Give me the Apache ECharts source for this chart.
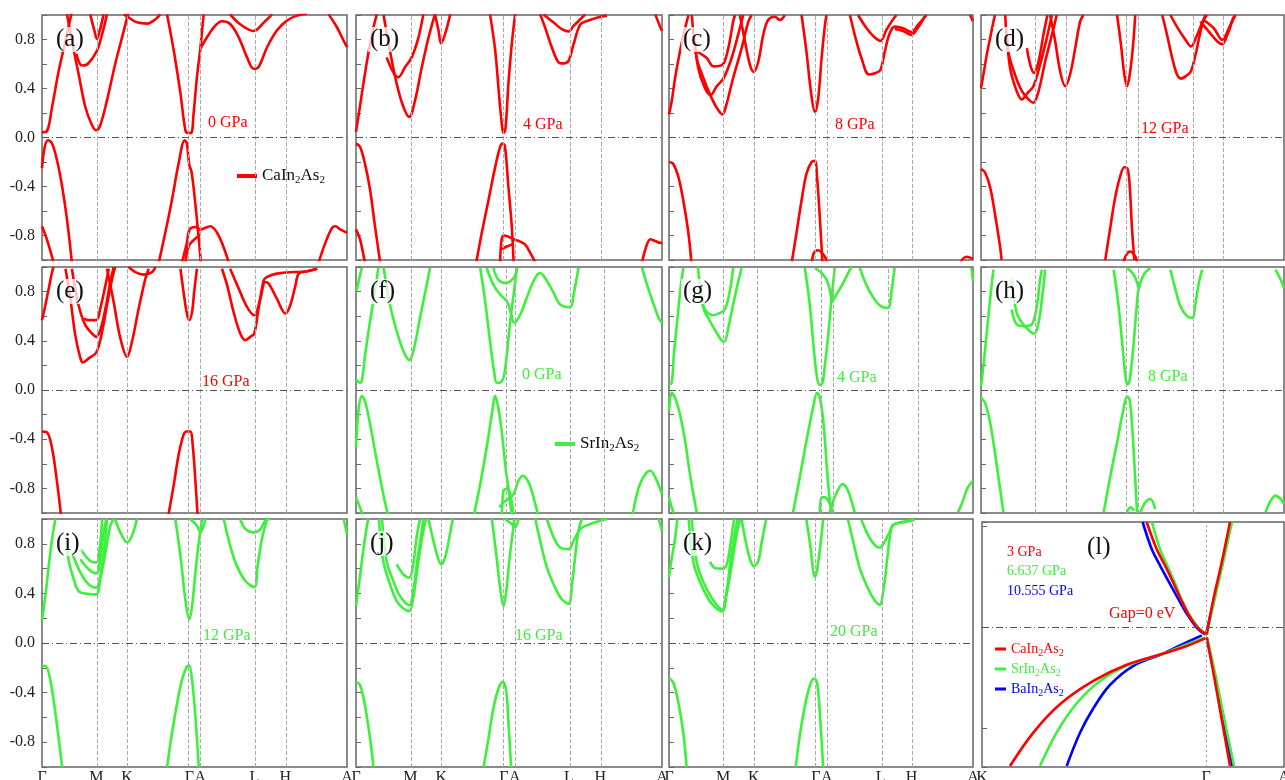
<!DOCTYPE html>
<html>
<head>
<meta charset="utf-8">
<script src="https://cdn.jsdelivr.net/npm/echarts@6/dist/echarts.min.js"></script>
<style>
  html, body { margin: 0; padding: 0; background: #fff; }
  #chart { width: 1285px; height: 780px; }
</style>
</head>
<body>
<div id="chart"></div>
<script>
// k-path positions (fraction of path length) and names
var kPath  = [0, 0.178, 0.279, 0.483, 0.519, 0.696, 0.798, 1];
var kPathF = [0, 0.177, 0.280, 0.490, 0.523, 0.703, 0.809, 1];
var kPathG = [0, 0.182, 0.290, 0.499, 0.537, 0.721, 0.825, 1];
var kNames = ['Γ', 'M', 'K', 'Γ', 'A', 'L', 'H', 'A'];
var kPathL = [0, 1, 1.348];
var kNamesL = ['K', 'Γ', 'A'];

var pressures = ['0 GPa', '4 GPa', '8 GPa', '12 GPa', '16 GPa', '0 GPa', '4 GPa', '8 GPa', '12 GPa', '16 GPa', '20 GPa'];
var panelNames = ['(a)', '(b)', '(c)', '(d)', '(e)', '(f)', '(g)', '(h)', '(i)', '(j)', '(k)', '(l)'];
var pressuresL = ['3 GPa', '6.637 GPa', '10.555 GPa'];

// CaIn2As2, 0 GPa
var bandsA = [
  [[0,0.043],[0.016,0.051],[0.033,0.249],[0.055,0.546],[0.077,0.789],[0.098,1.03]],
  [[0.082,1.005],[0.098,0.789],[0.12,0.519],[0.142,0.249],[0.164,0.1],[0.178,0.059],[0.191,0.1],[0.213,0.303],[0.24,0.6],[0.268,0.87],[0.284,1.03]],
  [[0.113,0.683],[0.131,0.588],[0.15,0.6],[0.18,0.708],[0.197,0.843],[0.213,1.005]],
  [[0.158,1.005],[0.172,0.87],[0.18,0.805],[0.189,0.87],[0.202,1.005]],
  [[0.268,1.005],[0.284,0.98],[0.311,0.94],[0.344,0.93],[0.372,0.965],[0.388,1.005]],
  [[0.41,1.005],[0.432,0.71],[0.454,0.358],[0.47,0.06],[0.478,0.038],[0.489,0.038],[0.497,0.195],[0.508,0.493],[0.519,0.724],[0.53,1.005]],
  [[0.519,0.724],[0.541,0.818],[0.568,0.913],[0.59,0.949],[0.617,0.927],[0.645,0.818],[0.672,0.656],[0.694,0.561],[0.71,0.575],[0.738,0.737],[0.77,0.873],[0.803,0.954],[0.836,0.995],[0.869,1.01]],
  [[0.617,1.005],[0.65,0.924],[0.694,0.87],[0.727,0.938],[0.754,1.005]],
  [[0.94,1.005],[0.967,0.9],[0.989,0.79],[1,0.737]],
  [[0,-0.25],[0.009,-0.076],[0.02,-0.022],[0.033,-0.049],[0.049,-0.184],[0.066,-0.4],[0.082,-0.67],[0.098,-1.02]],
  [[0,-0.724],[0.016,-0.832],[0.038,-1.02]],
  [[0.383,-1.02],[0.404,-0.78],[0.426,-0.51],[0.448,-0.21],[0.468,-0.022],[0.475,-0.049],[0.483,-0.224],[0.49,-0.278],[0.499,-0.454],[0.51,-0.724],[0.521,-1.02]],
  [[0.459,-1.02],[0.475,-0.86],[0.484,-0.75],[0.503,-0.73],[0.519,-0.75],[0.552,-0.724],[0.574,-0.778],[0.596,-0.9],[0.612,-1.02]],
  [[0.47,-1.02],[0.481,-0.886],[0.497,-0.838],[0.519,-0.792]],
  [[0.907,-1.02],[0.929,-0.86],[0.951,-0.738],[0.962,-0.724],[0.978,-0.75],[1,-0.778]]
];
// CaIn2As2, 4 GPa
var bandsB = [
  [[0,0.046],[0.011,0.222],[0.024,0.438],[0.04,0.681],[0.057,0.897],[0.068,1.005]],
  [[0.09,1.0],[0.111,0.708],[0.133,0.438],[0.155,0.249],[0.174,0.168],[0.193,0.303],[0.215,0.573],[0.237,0.816],[0.258,1.005]],
  [[0.1,0.654],[0.122,0.532],[0.138,0.492],[0.16,0.573],[0.182,0.654],[0.204,0.816],[0.22,1.005]],
  [[0.258,1.005],[0.27,0.87],[0.278,0.768],[0.291,0.843],[0.308,1.005]],
  [[0.438,1.005],[0.455,0.708],[0.469,0.303],[0.479,0.059],[0.483,0.038],[0.489,0.086],[0.498,0.438],[0.509,0.762],[0.52,1.005]],
  [[0.602,1.005],[0.618,0.897],[0.64,0.735],[0.662,0.614],[0.678,0.605],[0.695,0.627],[0.711,0.762],[0.733,0.924],[0.755,0.951],[0.787,0.978],[0.82,0.995]],
  [[0.613,1.005],[0.646,0.938],[0.673,0.884],[0.695,0.865],[0.711,0.911],[0.733,0.965],[0.749,1.005]],
  [[0.978,1.005],[0.995,0.897],[1,0.87]],
  [[0,-0.049],[0.013,-0.076],[0.029,-0.211],[0.046,-0.427],[0.062,-0.724],[0.079,-1.02]],
  [[0,-0.75],[0.013,-0.83],[0.029,-1.02]],
  [[0.393,-1.02],[0.411,-0.78],[0.433,-0.51],[0.455,-0.24],[0.471,-0.076],[0.48,-0.049],[0.487,-0.076],[0.498,-0.4],[0.509,-0.724],[0.515,-1.02]],
  [[0.471,-1.02],[0.476,-0.83],[0.484,-0.8],[0.498,-0.81],[0.515,-0.83],[0.537,-0.85],[0.553,-0.875],[0.569,-0.94],[0.586,-1.02]],
  [[0.476,-0.91],[0.493,-0.89],[0.515,-0.87]],
  [[0.935,-1.02],[0.946,-0.91],[0.962,-0.83],[0.978,-0.845],[0.995,-0.86],[1,-0.86]]
];
// CaIn2As2, 8 GPa
var bandsC = [
  [[0,0.189],[0.009,0.297],[0.02,0.486],[0.036,0.703],[0.053,0.892],[0.064,1.0]],
  [[0.075,1.0],[0.091,0.649],[0.113,0.486],[0.135,0.351],[0.157,0.243],[0.176,0.189],[0.189,0.27],[0.211,0.486],[0.239,0.73],[0.261,0.946],[0.272,1.0]],
  [[0.082,0.85],[0.096,0.568],[0.118,0.405],[0.137,0.346],[0.157,0.419],[0.179,0.481],[0.206,0.649],[0.233,0.892],[0.244,1.0]],
  [[0.091,0.703],[0.124,0.649],[0.146,0.581],[0.176,0.595],[0.195,0.73],[0.211,0.946],[0.217,1.0]],
  [[0.233,1.0],[0.25,0.784],[0.266,0.595],[0.279,0.535],[0.294,0.622],[0.31,0.838],[0.326,0.959],[0.348,0.986],[0.365,0.959],[0.381,1.0]],
  [[0.436,1.0],[0.452,0.703],[0.468,0.351],[0.48,0.208],[0.491,0.324],[0.502,0.649],[0.513,0.919],[0.518,1.0]],
  [[0.595,1.0],[0.611,0.838],[0.633,0.649],[0.658,0.514],[0.68,0.527],[0.696,0.554],[0.71,0.703],[0.726,0.851],[0.743,0.905],[0.77,0.892],[0.797,0.86],[0.819,0.919],[0.847,1.0]],
  [[0.743,0.886],[0.77,0.87],[0.797,0.838],[0.819,0.897],[0.841,0.986]],
  [[0.622,1.0],[0.65,0.892],[0.677,0.816],[0.696,0.789],[0.715,0.878],[0.732,0.946],[0.748,1.0]],
  [[0.99,1.0],[1,0.95]],
  [[0,-0.2],[0.014,-0.216],[0.031,-0.324],[0.047,-0.514],[0.064,-0.784],[0.074,-1.03]],
  [[0.403,-1.03],[0.419,-0.784],[0.436,-0.514],[0.452,-0.297],[0.469,-0.2],[0.48,-0.19],[0.487,-0.324],[0.496,-0.649],[0.505,-1.03]],
  [[0.47,-1.03],[0.476,-0.946],[0.49,-0.92],[0.512,-0.97],[0.52,-1.03]],
  [[0.956,-1.03],[0.978,-0.973],[1,-0.99]]
];
// CaIn2As2, 12 GPa
var bandsD = [
  [[0,0.405],[0.008,0.514],[0.019,0.676],[0.03,0.811],[0.041,0.946],[0.046,1.0]],
  [[0.08,1.0],[0.09,0.703],[0.112,0.514],[0.135,0.378],[0.157,0.311],[0.173,0.284],[0.19,0.378],[0.212,0.622],[0.234,0.838],[0.25,1.0]],
  [[0.085,0.85],[0.096,0.568],[0.118,0.378],[0.135,0.311],[0.154,0.365],[0.173,0.419],[0.195,0.595],[0.217,0.811],[0.234,1.0]],
  [[0.151,0.73],[0.164,0.581],[0.175,0.527],[0.19,0.622],[0.206,0.838],[0.219,1.0]],
  [[0.228,1.0],[0.245,0.784],[0.261,0.541],[0.278,0.419],[0.294,0.514],[0.311,0.73],[0.327,0.946],[0.338,1.0]],
  [[0.449,1.0],[0.462,0.757],[0.473,0.514],[0.482,0.419],[0.491,0.514],[0.502,0.757],[0.509,1.0]],
  [[0.598,1.0],[0.614,0.838],[0.631,0.649],[0.647,0.514],[0.66,0.481],[0.68,0.508],[0.693,0.541],[0.708,0.676],[0.722,0.838],[0.735,0.959],[0.746,1.0]],
  [[0.625,1.0],[0.653,0.878],[0.675,0.797],[0.693,0.743],[0.711,0.824],[0.727,0.919],[0.741,1.0]],
  [[0.724,0.946],[0.752,0.865],[0.78,0.784],[0.796,0.762],[0.813,0.838],[0.829,0.946],[0.84,1.0]],
  [[0.735,0.959],[0.768,0.892],[0.796,0.797],[0.818,0.892],[0.834,0.986]],
  [[0,-0.257],[0.013,-0.284],[0.03,-0.405],[0.046,-0.622],[0.063,-0.892],[0.068,-1.0]],
  [[0.41,-1.0],[0.427,-0.73],[0.443,-0.486],[0.46,-0.311],[0.473,-0.243],[0.484,-0.257],[0.491,-0.405],[0.498,-0.73],[0.506,-1.0]],
  [[0.47,-1.02],[0.479,-0.96],[0.492,-0.93],[0.509,-0.97],[0.515,-1.02]]
];
// CaIn2As2, 16 GPa
var bandsE = [
  [[0,0.568],[0.011,0.689],[0.022,0.824],[0.033,0.959],[0.038,1.0]],
  [[0.077,0.986],[0.093,0.743],[0.109,0.446],[0.126,0.257],[0.134,0.224],[0.153,0.257],[0.178,0.305],[0.197,0.473],[0.213,0.689],[0.23,0.905],[0.24,1.0]],
  [[0.098,0.986],[0.12,0.689],[0.142,0.527],[0.164,0.459],[0.178,0.432],[0.191,0.486],[0.208,0.662],[0.224,0.878],[0.235,1.0]],
  [[0.137,0.581],[0.153,0.568],[0.178,0.568],[0.191,0.662],[0.208,0.851],[0.219,0.986]],
  [[0.213,0.986],[0.235,0.716],[0.257,0.419],[0.279,0.27],[0.295,0.392],[0.317,0.662],[0.339,0.905],[0.35,0.986]],
  [[0.284,1.0],[0.306,0.959],[0.333,0.938],[0.361,0.959],[0.372,1.0]],
  [[0.454,0.986],[0.464,0.797],[0.475,0.622],[0.483,0.568],[0.492,0.635],[0.499,0.797],[0.508,0.986]],
  [[0.59,0.986],[0.607,0.851],[0.628,0.635],[0.65,0.459],[0.667,0.405],[0.683,0.432],[0.696,0.459],[0.71,0.662],[0.727,0.892],[0.738,0.919],[0.77,0.946],[0.825,0.959],[0.847,0.959],[0.902,0.986]],
  [[0.617,0.986],[0.645,0.824],[0.672,0.676],[0.696,0.608],[0.716,0.743],[0.732,0.878],[0.743,0.865],[0.77,0.743],[0.798,0.622],[0.814,0.689],[0.831,0.851],[0.842,0.946],[0.869,0.965],[0.902,0.986]],
  [[0,-0.338],[0.016,-0.343],[0.033,-0.473],[0.049,-0.743],[0.062,-1.01]],
  [[0.415,-1.01],[0.432,-0.77],[0.448,-0.527],[0.464,-0.365],[0.475,-0.338],[0.486,-0.338],[0.495,-0.473],[0.503,-0.743],[0.51,-1.01]]
];
// SrIn2As2, 0 GPa
var bandsF = [
  [[0,0.086],[0.013,0.059],[0.019,0.073],[0.03,0.289],[0.046,0.559],[0.062,0.803],[0.073,0.992]],
  [[0.002,0.803],[0.011,0.911],[0.019,0.992]],
  [[0.09,1.0],[0.111,0.695],[0.133,0.478],[0.155,0.316],[0.174,0.243],[0.19,0.343],[0.209,0.586],[0.229,0.83],[0.242,0.992]],
  [[0.406,0.992],[0.422,0.722],[0.438,0.397],[0.451,0.154],[0.46,0.059],[0.469,0.059],[0.482,0.1],[0.493,0.289],[0.504,0.559],[0.515,0.776],[0.526,0.992]],
  [[0.427,0.992],[0.449,0.857],[0.471,0.776],[0.493,0.722],[0.506,0.627],[0.517,0.546],[0.537,0.614],[0.558,0.749],[0.58,0.884],[0.6,0.951],[0.618,0.911],[0.646,0.789],[0.667,0.695],[0.7,0.673],[0.711,0.776],[0.727,0.992]],
  [[0.449,0.992],[0.465,0.897],[0.487,0.87],[0.515,0.911],[0.526,0.992]],
  [[0.935,0.992],[0.951,0.857],[0.973,0.695],[0.989,0.586],[1,0.546]],
  [[0,-0.468],[0.008,-0.17],[0.019,-0.049],[0.029,-0.089],[0.046,-0.278],[0.068,-0.576],[0.089,-0.846],[0.106,-1.035]],
  [[0.384,-1.035],[0.406,-0.765],[0.427,-0.468],[0.444,-0.197],[0.455,-0.049],[0.465,-0.143],[0.476,-0.332],[0.482,-0.468],[0.49,-0.657],[0.498,-0.792],[0.509,-1.035]],
  [[0.469,-0.954],[0.482,-0.914],[0.498,-0.886],[0.515,-0.846],[0.531,-0.738],[0.545,-0.697],[0.564,-0.751],[0.58,-0.873],[0.597,-1.035]],
  [[0.477,-1.035],[0.482,-0.819],[0.493,-0.805],[0.504,-0.846],[0.515,-1.035]],
  [[0.902,-1.035],[0.924,-0.792],[0.945,-0.684],[0.962,-0.657],[0.978,-0.711],[1,-0.846]],
  [[0,-0.873],[0.013,-0.954],[0.024,-1.035]]
];
// SrIn2As2, 4 GPa
var bandsG = [
  [[0,0.046],[0.009,0.059],[0.016,0.289],[0.027,0.559],[0.038,0.83],[0.047,0.992]],
  [[0.095,1.0],[0.113,0.668],[0.135,0.559],[0.157,0.465],[0.173,0.403],[0.182,0.392],[0.195,0.505],[0.211,0.695],[0.228,0.884],[0.239,0.992]],
  [[0.102,0.83],[0.118,0.654],[0.146,0.608],[0.168,0.627],[0.184,0.654],[0.2,0.803],[0.211,0.992]],
  [[0.447,0.992],[0.463,0.695],[0.476,0.343],[0.487,0.1],[0.496,0.041],[0.505,0.059],[0.513,0.208],[0.524,0.451],[0.534,0.722],[0.545,0.992]],
  [[0.48,0.992],[0.502,0.951],[0.518,0.897],[0.529,0.816],[0.537,0.722],[0.551,0.776],[0.573,0.87],[0.595,0.978],[0.6,1.0]],
  [[0.628,0.992],[0.644,0.884],[0.666,0.776],[0.688,0.7],[0.704,0.673],[0.721,0.668],[0.732,0.803],[0.742,0.992]],
  [[0.995,0.992],[1,0.884]],
  [[0,-0.17],[0.009,-0.022],[0.02,-0.062],[0.036,-0.197],[0.053,-0.414],[0.069,-0.684],[0.091,-0.995]],
  [[0.408,-0.995],[0.43,-0.711],[0.452,-0.414],[0.474,-0.143],[0.487,-0.022],[0.496,-0.062],[0.505,-0.197],[0.513,-0.414],[0.52,-0.657],[0.529,-0.9],[0.535,-0.995]],
  [[0.496,-0.995],[0.502,-0.873],[0.513,-0.873],[0.529,-0.927],[0.54,-0.995]],
  [[0.529,-0.995],[0.545,-0.873],[0.571,-0.765],[0.589,-0.819],[0.606,-0.954],[0.611,-0.995]],
  [[0.951,-0.995],[0.967,-0.9],[0.983,-0.792],[1,-0.738]],
  [[0,-0.873],[0.009,-0.954],[0.015,-1.0]]
];
// SrIn2As2, 8 GPa
var bandsH = [
  [[0,0.032],[0.008,0.195],[0.019,0.465],[0.03,0.735],[0.041,0.978]],
  [[0.1,0.9],[0.118,0.627],[0.14,0.532],[0.162,0.478],[0.176,0.457],[0.19,0.546],[0.201,0.735],[0.212,0.978]],
  [[0.101,0.654],[0.118,0.532],[0.14,0.519],[0.167,0.532],[0.184,0.681],[0.195,0.897],[0.201,0.978]],
  [[0.438,0.978],[0.454,0.681],[0.468,0.33],[0.478,0.086],[0.484,0.046],[0.491,0.086],[0.502,0.33],[0.513,0.654],[0.52,0.816],[0.537,0.938],[0.559,0.992]],
  [[0.482,0.992],[0.504,0.938],[0.52,0.83]],
  [[0.625,0.978],[0.642,0.816],[0.658,0.681],[0.68,0.6],[0.697,0.586],[0.708,0.708],[0.719,0.87],[0.73,0.978]],
  [[0.972,0.978],[0.989,0.897],[1,0.83]],
  [[0,-0.062],[0.013,-0.103],[0.03,-0.265],[0.046,-0.508],[0.063,-0.805],[0.074,-0.995]],
  [[0.405,-0.995],[0.427,-0.697],[0.449,-0.427],[0.468,-0.184],[0.482,-0.054],[0.49,-0.076],[0.498,-0.265],[0.506,-0.589],[0.515,-0.995]],
  [[0.482,-0.995],[0.493,-0.954],[0.506,-0.981]],
  [[0.526,-0.995],[0.542,-0.914],[0.559,-0.886],[0.575,-0.968]],
  [[0.939,-0.995],[0.956,-0.9],[0.972,-0.859],[0.989,-0.886],[1,-0.927]]
];
// SrIn2As2, 12 GPa
var bandsI = [
  [[0,0.184],[0.011,0.378],[0.022,0.62],[0.033,0.838],[0.044,1.0]],
  [[0.08,0.85],[0.087,0.676],[0.104,0.514],[0.12,0.419],[0.148,0.397],[0.178,0.392],[0.191,0.514],[0.208,0.73],[0.224,0.946],[0.235,1.0]],
  [[0.098,0.73],[0.126,0.568],[0.153,0.473],[0.178,0.446],[0.191,0.54],[0.204,0.757],[0.213,1.0]],
  [[0.126,0.676],[0.153,0.595],[0.178,0.562],[0.191,0.676],[0.202,0.892],[0.211,1.0]],
  [[0.126,0.757],[0.158,0.662],[0.178,0.649],[0.189,0.757],[0.197,1.0]],
  [[0.24,1.0],[0.257,0.892],[0.279,0.811],[0.295,0.865],[0.311,1.0]],
  [[0.437,1.0],[0.454,0.703],[0.47,0.351],[0.483,0.189],[0.492,0.297],[0.503,0.568],[0.514,0.811],[0.525,1.0]],
  [[0.486,1.0],[0.508,0.946],[0.519,0.892],[0.536,1.0]],
  [[0.596,1.0],[0.617,0.784],[0.639,0.622],[0.667,0.5],[0.696,0.451],[0.707,0.622],[0.721,0.838],[0.738,1.0]],
  [[0.65,1.0],[0.667,0.919],[0.696,0.892],[0.716,0.919],[0.732,0.986],[0.749,1.0]],
  [[0.989,1.0],[1,0.878]],
  [[0,-0.189],[0.011,-0.184],[0.027,-0.297],[0.044,-0.568],[0.066,-1.0]],
  [[0.41,-1.0],[0.426,-0.73],[0.443,-0.486],[0.459,-0.297],[0.475,-0.189],[0.483,-0.181],[0.492,-0.297],[0.503,-0.595],[0.514,-1.0]]
];
// SrIn2As2, 16 GPa
var bandsJ = [
  [[0,0.297],[0.011,0.5],[0.022,0.716],[0.033,0.905],[0.04,1.0]],
  [[0.075,1.0],[0.089,0.662],[0.111,0.473],[0.133,0.338],[0.155,0.278],[0.174,0.257],[0.187,0.365],[0.204,0.662],[0.22,0.905],[0.229,1.0]],
  [[0.085,1.0],[0.1,0.662],[0.122,0.5],[0.144,0.378],[0.174,0.305],[0.187,0.419],[0.2,0.662],[0.215,0.905],[0.22,1.0]],
  [[0.133,0.635],[0.155,0.554],[0.174,0.527],[0.187,0.635],[0.198,0.851],[0.209,1.0]],
  [[0.237,1.0],[0.253,0.824],[0.269,0.676],[0.278,0.635],[0.291,0.689],[0.305,0.851],[0.316,1.0]],
  [[0.444,1.0],[0.457,0.743],[0.471,0.446],[0.482,0.297],[0.491,0.419],[0.502,0.689],[0.513,0.905],[0.517,1.0]],
  [[0.487,1.0],[0.509,0.959],[0.52,0.932],[0.531,1.0]],
  [[0.586,1.0],[0.602,0.824],[0.624,0.608],[0.651,0.446],[0.673,0.351],[0.695,0.316],[0.706,0.473],[0.717,0.716],[0.727,0.905],[0.738,1.0]],
  [[0.624,1.0],[0.646,0.851],[0.667,0.77],[0.695,0.757],[0.711,0.824],[0.733,0.919],[0.765,0.959],[0.798,0.986],[0.82,1.0]],
  [[0.989,1.0],[1,0.905]],
  [[0,-0.311],[0.013,-0.338],[0.029,-0.5],[0.046,-0.77],[0.057,-1.0]],
  [[0.417,-1.0],[0.433,-0.77],[0.449,-0.527],[0.466,-0.365],[0.48,-0.311],[0.491,-0.392],[0.498,-0.635],[0.507,-1.0]]
];
// SrIn2As2, 20 GPa
var bandsK = [
  [[0,0.532],[0.009,0.681],[0.02,0.843],[0.027,0.992]],
  [[0.065,1.0],[0.08,0.654],[0.102,0.492],[0.129,0.357],[0.151,0.289],[0.175,0.254],[0.189,0.384],[0.206,0.627],[0.222,0.87],[0.233,0.992]],
  [[0.075,1.0],[0.091,0.654],[0.113,0.492],[0.146,0.343],[0.175,0.27],[0.189,0.411],[0.202,0.654],[0.217,0.897],[0.225,0.992]],
  [[0.135,0.654],[0.151,0.605],[0.175,0.6],[0.189,0.627],[0.2,0.762],[0.211,0.951],[0.215,1.0]],
  [[0.239,0.992],[0.255,0.789],[0.268,0.665],[0.279,0.619],[0.294,0.665],[0.305,0.814],[0.319,0.992]],
  [[0.452,0.992],[0.466,0.762],[0.474,0.586],[0.48,0.532],[0.487,0.586],[0.498,0.789],[0.507,0.992]],
  [[0.589,0.992],[0.606,0.816],[0.628,0.6],[0.655,0.438],[0.677,0.343],[0.693,0.308],[0.706,0.438],[0.718,0.681],[0.729,0.897],[0.737,0.951],[0.77,0.978],[0.803,0.992]],
  [[0.633,0.992],[0.655,0.87],[0.677,0.789],[0.693,0.768],[0.709,0.816],[0.726,0.897],[0.737,0.951],[0.781,0.978],[0.808,0.992]],
  [[0,-0.286],[0.014,-0.319],[0.031,-0.481],[0.047,-0.724],[0.058,-1.0]],
  [[0.417,-1.0],[0.43,-0.751],[0.447,-0.508],[0.463,-0.346],[0.477,-0.286],[0.487,-0.319],[0.496,-0.562],[0.507,-1.0]]
];
// (l) band crossing near Gamma for the three compounds (eV)
var bandsLCa = [
  [[0.735,0.104],[0.78,0.077],[0.817,0.061],[0.854,0.044],[0.887,0.028],[0.921,0.013],[0.958,0.001],[0.999,-0.007]],
  [[1.003,-0.007],[1.033,0.028],[1.07,0.064],[1.107,0.104]],
  [[1.003,-0.010],[1.033,-0.045],[1.07,-0.091],[1.107,-0.137]],
  [[0.125,-0.137],[0.229,-0.104],[0.348,-0.076],[0.497,-0.053],[0.646,-0.037],[0.809,-0.026],[0.914,-0.0185],[0.996,-0.011]]
];
var bandsLSr = [
  [[0.758,0.104],[0.795,0.077],[0.827,0.061],[0.861,0.044],[0.89,0.028],[0.924,0.013],[0.961,0.001],[1.0,-0.007]],
  [[1.003,-0.007],[1.039,0.028],[1.076,0.064],[1.116,0.104]],
  [[1.004,-0.010],[1.04,-0.045],[1.082,-0.091],[1.125,-0.137]],
  [[0.259,-0.137],[0.333,-0.104],[0.423,-0.075],[0.527,-0.053],[0.646,-0.038],[0.809,-0.026],[0.914,-0.017],[0.996,-0.010]]
];
var bandsLBa = [
  [[0.717,0.104],[0.758,0.077],[0.795,0.061],[0.836,0.044],[0.876,0.028],[0.921,0.011],[0.961,-0.001],[0.996,-0.007]],
  [[1.0,-0.007],[1.036,0.028],[1.073,0.064],[1.11,0.104]],
  [[1.003,-0.010],[1.036,-0.045],[1.076,-0.091],[1.118,-0.137]],
  [[0.378,-0.137],[0.438,-0.104],[0.497,-0.08],[0.571,-0.057],[0.676,-0.038],[0.809,-0.026],[0.884,-0.018],[0.981,-0.008]]
];

var RED = '#ff0000', GREEN = '#3cf03c', BLUE = '#0000ff';
var FONT = 'Liberation Serif';
var CA = 'CaIn2As2', SR = 'SrIn2As2', BA = 'BaIn2As2';

// layout
var colX = [[42, 305], [356, 306], [669, 304], [981, 303]];
var rowY = [[15, 245], [267, 246], [519, 248]];
var gridL = { left: 982, top: 522, width: 302, height: 245 };
var pressPos = [[208,124],[523,126],[835,126],[1141,130],[202,383],[522,376],[837,379],[1148,378],[203,637],[515,637],[830,633]];

var panels = [
  { bands: bandsA, name: CA, color: RED, k: kPath },
  { bands: bandsB, name: CA, color: RED, k: kPath },
  { bands: bandsC, name: CA, color: RED, k: kPath },
  { bands: bandsD, name: CA, color: RED, k: kPath },
  { bands: bandsE, name: CA, color: RED, k: kPath },
  { bands: bandsF, name: SR, color: GREEN, k: kPathF },
  { bands: bandsG, name: SR, color: GREEN, k: kPathG },
  { bands: bandsH, name: SR, color: GREEN, k: kPath },
  { bands: bandsI, name: SR, color: GREEN, k: kPath },
  { bands: bandsJ, name: SR, color: GREEN, k: kPath },
  { bands: bandsK, name: SR, color: GREEN, k: kPath }
];

function fmtY(v) {
  var t = Math.round(v * 10);
  if (Math.abs(t) % 4 === 0 && Math.abs(t) < 10) return (t / 10).toFixed(1);
  return '';
}
function nameFor(vals, names) {
  return function (v) {
    for (var i = 0; i < vals.length; i++) {
      if (Math.abs(vals[i] - v) < 1e-6) return names[i];
    }
    return '';
  };
}
function subFmt(name) { return name.replace(/(\d)/g, '{s|$1}'); }

var grids = [], xAxes = [], yAxes = [], series = [], graphics = [];

panels.forEach(function (p, i) {
  var col = i % 4, row = Math.floor(i / 4);
  var g = { left: colX[col][0], top: rowY[row][0], width: colX[col][1], height: rowY[row][1],
            show: true, borderColor: '#666', borderWidth: 1.5, backgroundColor: 'transparent',
            containLabel: false, outerBoundsMode: 'none' };
  grids.push(g);
  xAxes.push({
    type: 'value', gridIndex: i, min: 0, max: 1,
    axisLine: { show: false }, axisTick: { show: false }, splitLine: { show: false },
    axisLabel: row === 2 ? {
      show: true, customValues: kPath, formatter: nameFor(kPath, kNames),
      margin: 3, fontFamily: FONT, fontSize: 16, color: '#222'
    } : { show: false }
  });
  yAxes.push({
    type: 'value', gridIndex: i, min: -1, max: 1, interval: 0.2,
    axisLine: { show: false },
    axisTick: { show: true, inside: true, length: 5, lineStyle: { color: '#666' } },
    splitLine: { show: false },
    axisLabel: col === 0 ? { show: true, formatter: fmtY, margin: 7, fontFamily: FONT, fontSize: 16, color: '#222' } : { show: false }
  });
  // guide lines: high-symmetry points and Fermi level
  var guides = p.k.slice(1, -1).map(function (v) {
    return { xAxis: v, lineStyle: { color: '#aaa', type: [4, 2], width: 1 } };
  });
  guides.push({ yAxis: 0, lineStyle: { color: '#555', type: [7, 3, 1, 3], width: 1 } });
  series.push({
    type: 'line', xAxisIndex: i, yAxisIndex: i, data: [], z: 1, silent: true,
    markLine: { silent: true, symbol: 'none', label: { show: false }, animation: false, data: guides }
  });
  p.bands.forEach(function (b) {
    series.push({
      type: 'line', name: p.name, xAxisIndex: i, yAxisIndex: i, data: b,
      showSymbol: false, symbol: 'none', smooth: 0.35, silent: true, z: 3,
      lineStyle: { color: p.color, width: 2.6 }, itemStyle: { color: p.color }
    });
  });
  graphics.push({
    type: 'text', left: g.left + 12, top: g.top + 12, z: 10,
    style: { text: panelNames[i], font: '25px ' + FONT, fill: '#111',
             backgroundColor: 'rgba(255,255,255,0.75)', padding: [0, 2] }
  });
  graphics.push({
    type: 'text', left: pressPos[i][0], top: pressPos[i][1] - 9, z: 10,
    style: { text: pressures[i], font: '16px ' + FONT, fill: p.color }
  });
});

// panel (l)
var li = 11;
grids.push({ left: gridL.left, top: gridL.top, width: gridL.width, height: gridL.height,
             show: true, borderColor: '#666', borderWidth: 1.5, backgroundColor: 'transparent',
             containLabel: false, outerBoundsMode: 'none' });
xAxes.push({
  type: 'value', gridIndex: li, min: 0, max: 1.348,
  axisLine: { show: false }, axisTick: { show: false }, splitLine: { show: false },
  axisLabel: { show: true, customValues: kPathL, formatter: nameFor(kPathL, kNamesL),
               margin: 3, fontFamily: FONT, fontSize: 16, color: '#222' }
});
yAxes.push({
  type: 'value', gridIndex: li, min: -0.138, max: 0.104, splitNumber: 2,
  axisLine: { show: false },
  axisTick: { show: true, inside: true, length: 5, lineStyle: { color: '#666' } },
  splitLine: { show: false }, axisLabel: { show: false }
});
series.push({
  type: 'line', xAxisIndex: li, yAxisIndex: li, data: [], z: 1, silent: true,
  markLine: { silent: true, symbol: 'none', label: { show: false }, animation: false, data: [
    { xAxis: 1, lineStyle: { color: '#999', type: [2, 3], width: 1 } },
    { yAxis: 0, lineStyle: { color: '#555', type: [7, 3, 1, 3], width: 1 } }
  ] }
});
[[bandsLBa, BA, BLUE], [bandsLSr, SR, GREEN], [bandsLCa, CA, RED]].forEach(function (set) {
  set[0].forEach(function (b) {
    series.push({
      type: 'line', name: set[1], xAxisIndex: li, yAxisIndex: li, data: b,
      showSymbol: false, symbol: 'none', smooth: 0.35, silent: true, z: 3,
      lineStyle: { color: set[2], width: 2.6 }, itemStyle: { color: set[2] }
    });
  });
});
graphics.push({ type: 'text', left: 1087, top: 535, z: 10, style: { text: panelNames[11], font: '25px ' + FONT, fill: '#111' } });
[RED, GREEN, BLUE].forEach(function (c, j) {
  graphics.push({ type: 'text', left: 1007, top: 545 + j * 19.5, z: 10, style: { text: pressuresL[j], font: '14px ' + FONT, fill: c } });
});
graphics.push({ type: 'text', left: 1109, top: 606, z: 10, style: { text: 'Gap=0 eV', font: '16px ' + FONT, fill: RED } });

var richSub = { s: { fontSize: 11, lineHeight: 11, verticalAlign: 'bottom' } };

var option = {
  animation: false,
  backgroundColor: '#fff',
  grid: grids,
  xAxis: xAxes,
  yAxis: yAxes,
  legend: [
    { left: 232, top: 161, icon: 'rect', itemWidth: 20, itemHeight: 4, selectedMode: false,
      data: [CA], formatter: subFmt,
      textStyle: { fontFamily: FONT, fontSize: 17, lineHeight: 20, color: '#111', rich: richSub } },
    { left: 550, top: 429, icon: 'rect', itemWidth: 20, itemHeight: 4, selectedMode: false,
      data: [SR], formatter: subFmt,
      textStyle: { fontFamily: FONT, fontSize: 17, lineHeight: 20, color: '#111', rich: richSub } },
    { left: 990, top: 635, orient: 'vertical', icon: 'rect', itemWidth: 11, itemHeight: 3, itemGap: 2,
      selectedMode: false, formatter: subFmt,
      data: [
        { name: CA, textStyle: { color: RED } },
        { name: SR, textStyle: { color: GREEN } },
        { name: BA, textStyle: { color: BLUE } }
      ],
      textStyle: { fontFamily: FONT, fontSize: 14, lineHeight: 18, rich: { s: { fontSize: 10, lineHeight: 10, verticalAlign: 'bottom' } } } }
  ],
  graphic: graphics,
  series: series
};

var chart = echarts.init(document.getElementById('chart'));
chart.setOption(option);
</script>
</body>
</html>
